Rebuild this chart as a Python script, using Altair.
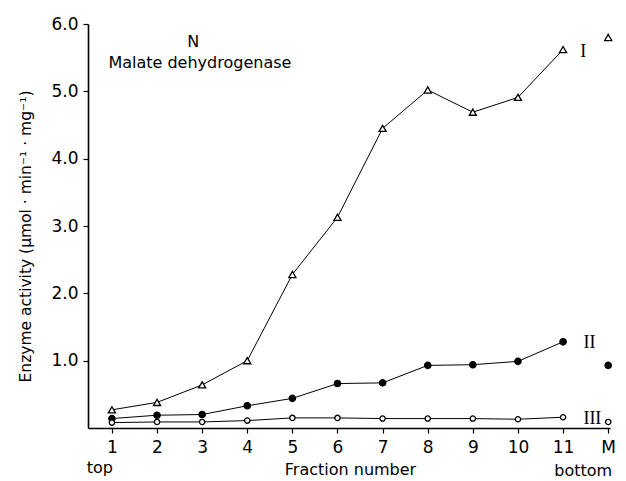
import altair as alt
import pandas as pd

# Gradient fractions (12 = membrane pellet "M")
fractions = [1, 2, 3, 4, 5, 6, 7, 8, 9, 10, 11, 12]
tick_names = ["1", "2", "3", "4", "5", "6", "7", "8", "9", "10", "11", "M"]

# Malate dehydrogenase activity (µmol·min⁻¹·mg⁻¹) for the three series
series_I = [0.27, 0.38, 0.64, 1.00, 2.28, 3.13, 4.45, 5.02, 4.69, 4.91, 5.62, 5.80]
series_II = [0.14, 0.19, 0.20, 0.33, 0.44, 0.66, 0.67, 0.93, 0.94, 0.99, 1.28, 0.93]
series_III = [0.08, 0.09, 0.09, 0.11, 0.15, 0.15, 0.14, 0.14, 0.14, 0.13, 0.16, 0.09]

series_names = ["I", "II", "III"]
series_values = [series_I, series_II, series_III]
series_shapes = ["triangle-up", "circle", "circle"]
series_filled = [False, True, False]
series_sizes = [50, 40, 28]

# Roman-numeral series labels placed next to fraction 11
label_x = [11.38, 11.45, 11.45]
label_y = [5.59, 1.26, 0.13]

FONT = "DejaVu Sans"
W, H = 522, 404

rows = []
for name, vals in zip(series_names, series_values):
    for f, v in zip(fractions, vals):
        rows.append({"fraction": f, "activity": v, "series": name})
df = pd.DataFrame(rows)

x_scale = alt.Scale(domain=[0.47, 12.04], nice=False, zero=False)
y_scale = alt.Scale(domain=[0, 6], nice=False)

x_enc = alt.X(
    "fraction:Q",
    scale=x_scale,
    axis=alt.Axis(
        values=fractions,
        labelExpr="datum.value == 12 ? 'M' : datum.label",
        format="d",
        grid=False,
        domainColor="black",
        domainWidth=1.6,
        tickColor="black",
        tickSize=5,
        tickWidth=1.2,
        labelFont=FONT,
        labelFontSize=17,
        labelColor="black",
        labelPadding=6,
        title="Fraction number",
        titleFont=FONT,
        titleFontSize=16,
        titleFontWeight="normal",
        titleColor="black",
        titleX=262,
        titleY=41,
        titleBaseline="middle",
    ),
)
y_enc = alt.Y(
    "activity:Q",
    scale=y_scale,
    axis=alt.Axis(
        values=[1, 2, 3, 4, 5, 6],
        format=".1f",
        grid=False,
        domainColor="black",
        domainWidth=1.6,
        tickColor="black",
        tickSize=5,
        tickWidth=1.2,
        labelFont=FONT,
        labelFontSize=17,
        labelColor="black",
        labelPadding=5,
        title="Enzyme activity (µmol · min⁻¹ · mg⁻¹)",
        titleFont=FONT,
        titleFontSize=15.5,
        titleFontWeight="normal",
        titleColor="black",
        titleAngle=270,
        titleX=-63,
        titleY=212,
        titleAlign="center",
        titleBaseline="middle",
    ),
)

layers = []
for name, shape, filled, size in zip(series_names, series_shapes, series_filled, series_sizes):
    sub = df[df["series"] == name]
    line = (
        alt.Chart(sub[sub["fraction"] <= 11])
        .mark_line(color="black", strokeWidth=1)
        .encode(x=x_enc, y=y_enc)
    )
    pts = (
        alt.Chart(sub)
        .mark_point(
            shape=shape,
            size=size,
            filled=filled,
            fill="black" if filled else "white",
            fillOpacity=1,
            stroke="black",
            strokeWidth=1.3,
            opacity=1,
        )
        .encode(x=x_enc, y=y_enc)
    )
    layers += [line, pts]

labels_df = pd.DataFrame({"x": label_x, "y": label_y, "text": series_names})
roman = (
    alt.Chart(labels_df)
    .mark_text(font="Liberation Serif", fontSize=18, align="left", baseline="middle", color="black")
    .encode(x=alt.X("x:Q", scale=x_scale), y=alt.Y("y:Q", scale=y_scale), text="text:N")
)

title_df = pd.DataFrame({"x": [2.80, 2.95], "y": [5.74, 5.42], "text": ["N", "Malate dehydrogenase"]})
panel_title = (
    alt.Chart(title_df)
    .mark_text(font=FONT, fontSize=16, align="center", baseline="middle", color="black")
    .encode(x=alt.X("x:Q", scale=x_scale), y=alt.Y("y:Q", scale=y_scale), text="text:N")
)

# "top" / "bottom" markers under the first and last fraction
ends = alt.layer(
    alt.Chart(pd.DataFrame({"x": [fractions[0]], "text": ["top"]}))
    .mark_text(font=FONT, fontSize=16, align="center", baseline="middle", color="black", dx=-12)
    .encode(x=alt.X("x:Q", scale=x_scale), y=alt.value(H + 40), text="text:N"),
    alt.Chart(pd.DataFrame({"x": [fractions[-1]], "text": ["bottom"]}))
    .mark_text(font=FONT, fontSize=16, align="center", baseline="middle", color="black", dx=-25)
    .encode(x=alt.X("x:Q", scale=x_scale), y=alt.value(H + 43), text="text:N"),
)

chart = (
    alt.layer(*layers, roman, panel_title, ends)
    .properties(
        width=W,
        height=H,
        autosize="none",
        padding={"left": 88, "top": 24, "right": 16, "bottom": 53},
        background="white",
    )
    .configure_view(stroke=None)
)

chart.save("out.html", embed_options={"renderer": "svg", "actions": False})
